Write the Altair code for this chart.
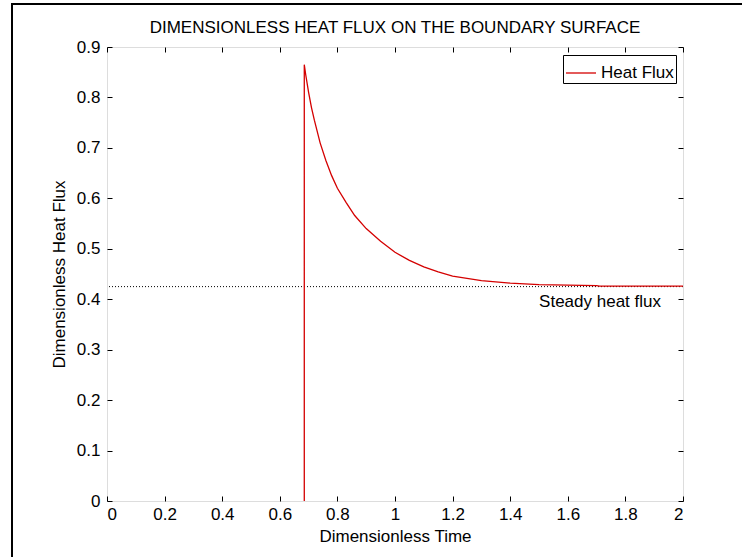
import altair as alt
import pandas as pd

# Heat flux history on the boundary surface (dimensionless time vs. flux)
time = [0.685, 0.685, 0.69, 0.70, 0.71, 0.72, 0.74, 0.76, 0.78, 0.80, 0.83, 0.86,
        0.90, 0.95, 1.00, 1.05, 1.10, 1.15, 1.20, 1.30, 1.40, 1.50, 1.60, 1.70,
        1.71, 2.00]
flux = [0.0, 0.865, 0.845, 0.81, 0.78, 0.755, 0.71, 0.675, 0.645, 0.62, 0.592, 0.566,
        0.54, 0.515, 0.493, 0.477, 0.464, 0.454, 0.446, 0.437, 0.432, 0.429, 0.428, 0.427,
        0.426, 0.426]
steady_flux = 0.425
steady_label = "Steady heat flux"
series_name = "Heat Flux"
chart_title = "DIMENSIONLESS HEAT FLUX ON THE BOUNDARY SURFACE"

x_ticks = [0, 0.2, 0.4, 0.6, 0.8, 1.0, 1.2, 1.4, 1.6, 1.8, 2.0]
y_ticks = [0, 0.1, 0.2, 0.3, 0.4, 0.5, 0.6, 0.7, 0.8, 0.9]

FONT = "Liberation Sans"
FS = 17
RED = "#d40000"
W, H = 576, 454

df = pd.DataFrame({"t": time, "q": flux, "idx": range(len(time)), "series": series_name})
steady_df = pd.DataFrame({"q": [steady_flux], "t": [2.0], "label": [steady_label]})
title_df = pd.DataFrame({"text": [chart_title]})
one = pd.DataFrame({"k": [0]})

xs = alt.Scale(domain=[0, 2], nice=False, zero=False)
ys = alt.Scale(domain=[0, 0.9], nice=False, zero=False)


def fmt_axis(orient, values, labels=True, title=None, **kw):
    # MATLAB-style inward ticks: shift the axis inside by the tick length
    opts = dict(orient=orient, values=values, domain=False, grid=False,
                ticks=True, tickSize=5, offset=-5, tickColor="black",
                labels=labels, format="~g", labelFont=FONT, labelFontSize=FS,
                labelColor="black", titleFont=FONT, titleFontSize=FS,
                titleColor="black", titleFontWeight="normal", title=title)
    opts.update(kw)
    return alt.Axis(**opts)


# figure border (left and top edges)
frame_left = alt.Chart(one).mark_rule(color="black", strokeWidth=2).encode(
    x=alt.value(-95), y=alt.value(-43), y2=alt.value(520))
frame_top = alt.Chart(one).mark_rule(color="black", strokeWidth=2).encode(
    y=alt.value(-43), x=alt.value(-96), x2=alt.value(650))

title_text = alt.Chart(title_df).mark_text(
    align="center", baseline="middle", font=FONT, fontSize=FS, color="black").encode(
    x=alt.value(W / 2), y=alt.value(-19), text="text:N")

steady_line = alt.Chart(steady_df).mark_rule(
    color="black", strokeWidth=1, strokeDash=[1, 2]).encode(
    y=alt.Y("q:Q", scale=ys, axis=None))

steady_text = alt.Chart(steady_df).mark_text(
    align="right", baseline="middle", dx=-22, dy=15, font=FONT, fontSize=FS,
    color="black").encode(
    x=alt.X("t:Q", scale=xs, axis=None),
    y=alt.Y("q:Q", scale=ys, axis=None),
    text="label:N")

flux_line = alt.Chart(df).mark_line(strokeWidth=1.3).encode(
    x=alt.X("t:Q", scale=xs,
            axis=fmt_axis("bottom", x_ticks, title="Dimensionless Time",
                          labelPadding=5, titlePadding=6)),
    y=alt.Y("q:Q", scale=ys,
            axis=fmt_axis("left", y_ticks, title="Dimensionless Heat Flux",
                          labelPadding=7, titlePadding=8)),
    order="idx:Q",
    color=alt.Color("series:N",
                    scale=alt.Scale(domain=[series_name], range=[RED]),
                    legend=alt.Legend(title=None, orient="none", legendX=456, legendY=8,
                                      strokeColor="black", fillColor="white",
                                      padding=2, symbolType="stroke",
                                      symbolStrokeWidth=1.3, symbolSize=900,
                                      labelFont=FONT, labelFontSize=FS,
                                      labelColor="black")))

# ticks on the top and right edges of the box
box_ticks = alt.Chart(df).mark_point(opacity=0).encode(
    x=alt.X("t:Q", scale=xs, axis=fmt_axis("top", x_ticks, labels=False)),
    y=alt.Y("q:Q", scale=ys, axis=fmt_axis("right", y_ticks, labels=False)))

chart = alt.layer(
    frame_left, frame_top, title_text, steady_line, flux_line, box_ticks, steady_text
).resolve_axis(
    x="independent", y="independent"
).properties(
    width=W, height=H,
    autosize=alt.AutoSizeParams(type="none"),
    padding={"left": 107, "top": 47, "right": 59, "bottom": 56},
).configure_view(
    stroke="black", strokeWidth=1
).configure(background="white")

chart.save("out.html", embed_options={"renderer": "svg", "actions": False})
